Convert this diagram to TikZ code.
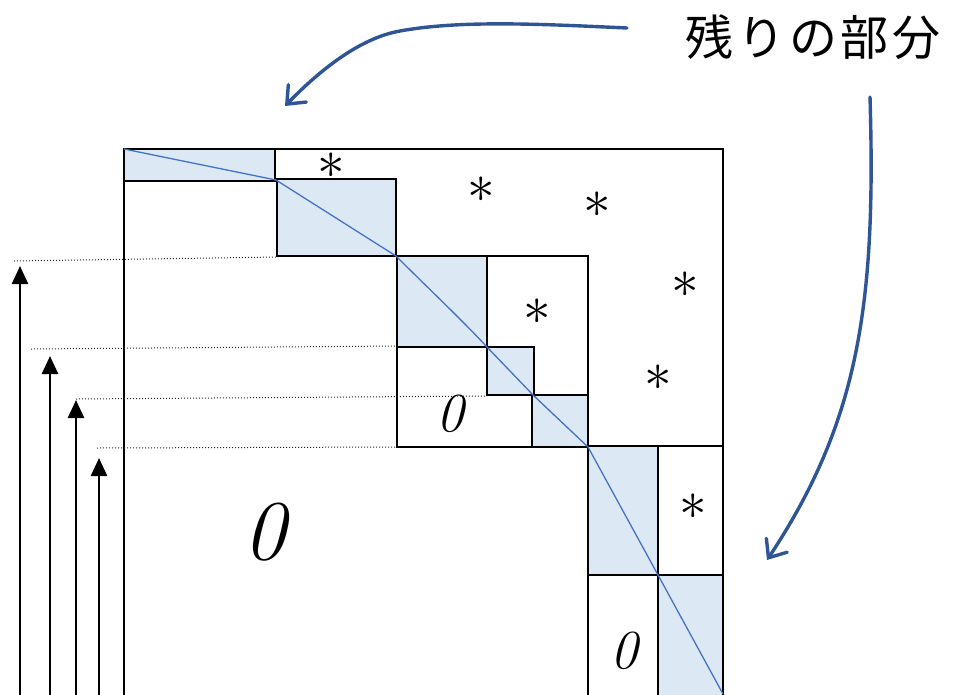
\documentclass[tikz,border=0pt]{standalone}
\usepackage{fontspec}
\newfontfamily\jp{Noto Sans CJK JP}
\usetikzlibrary{arrows.meta}
\definecolor{blkfill}{RGB}{221,232,245}
\definecolor{diagblue}{RGB}{68,114,196}
\definecolor{arrblue}{RGB}{47,85,151}
\begin{document}
\begin{tikzpicture}[x=1pt,y=-1pt,
  blk/.style={draw=black,line width=2.8pt,fill=blkfill},
  cell/.style={draw=black,line width=2.8pt},
  guide/.style={draw=black!85,line width=1pt,dotted},
  uparrow/.style={draw=black,line width=2.6pt,-{Triangle[width=16pt,length=18pt]}},
  callout/.style={draw=arrblue,line width=3.4pt,line cap=round,-{Straight Barb[length=15pt,width=25pt,line cap=round]}},
  star/.style={inner sep=0pt},
  zero/.style={inner sep=0pt}]
\useasboundingbox (0,0) rectangle (955,694);
\clip (0,0) rectangle (955,694);

% diagonal blocks and cells
\path[blk] (124,149) rectangle (275,181);
\path[blk] (277,179) rectangle (396,256);
\draw[cell] (397,256) rectangle (588,447);
\path[blk] (397,256) rectangle (487,347);
\draw[cell] (487,256) rectangle (588,395);
\draw[cell] (397,347) rectangle (532,447);
\path[blk] (487,347) rectangle (534,395);
\path[blk] (532,395) rectangle (588,447);
\draw[cell] (588,446) -- (723,446);
\path[blk] (588,446) rectangle (658,575);
\draw[cell] (658,446) rectangle (723,575);
\draw[cell] (588,575) rectangle (658,710);
\path[blk] (658,575) rectangle (723,710);
% outer frame
\draw[cell] (124,710) -- (124,149) -- (723,149) -- (723,710);

% diagonal line
\draw[diagblue,line width=1.3pt,line join=round] (124,149) -- (276,180) -- (396,256)
  .. controls (430,290) and (460,318) .. (487,347) -- (533,395) -- (588,447) -- (658,575) -- (723,694);

% dotted guides
\coordinate (g1a) at (14,261);  \coordinate (g1b) at (278,257);
\coordinate (g2a) at (31,349);  \coordinate (g2b) at (397,346);
\coordinate (g3a) at (76,399);  \coordinate (g3b) at (487,396);
\coordinate (g4a) at (97,448);  \coordinate (g4b) at (397,447);
\draw[guide] (g1a) -- (g1b);
\draw[guide] (g2a) -- (g2b);
\draw[guide] (g3a) -- (g3b);
\draw[guide] (g4a) -- (g4b);

% upward arrows
\coordinate (a1s) at (20,700); \coordinate (a1e) at (20,266);
\coordinate (a2s) at (50,700); \coordinate (a2e) at (50,356);
\coordinate (a3s) at (76,700); \coordinate (a3e) at (76,400);
\coordinate (a4s) at (99,700); \coordinate (a4e) at (99,458);
\draw[uparrow] (a1s) -- (a1e);
\draw[uparrow] (a2s) -- (a2e);
\draw[uparrow] (a3s) -- (a3e);
\draw[uparrow] (a4s) -- (a4e);

% stars
\node[star] (s1) at (331,166) {\scalebox{5.5}{$\ast$}};
\node[star] (s2) at (481,190) {\scalebox{5.5}{$\ast$}};
\node[star] (s3) at (597,205) {\scalebox{5.5}{$\ast$}};
\node[star] (s4) at (685,285) {\scalebox{5.5}{$\ast$}};
\node[star] (s5) at (537,312) {\scalebox{5.5}{$\ast$}};
\node[star] (s6) at (658,378) {\scalebox{5.5}{$\ast$}};
\node[star] (s7) at (693,507) {\scalebox{5.5}{$\ast$}};

% zeros
\node[zero] (z1) at (265,532) {\fontsize{85}{85}\selectfont\itshape 0};
\node[zero] (z2) at (450,414) {\fontsize{55}{55}\selectfont\itshape 0};
\node[zero] (z3) at (624,651) {\fontsize{55}{55}\selectfont\itshape 0};

% label and callouts
\node[inner sep=0pt] (lbl) at (813,37) {\fontsize{48}{48}\selectfont\jp\addfontfeature{LetterSpace=8}残りの部分};
\coordinate (c1s) at (627,28); \coordinate (c1e) at (285,106);
\coordinate (c2s) at (870,97); \coordinate (c2e) at (767,560);
\draw[callout] (c1s) .. controls (540,24) and (460,20) .. (400,31)
  .. controls (360,38) and (320,70) .. (c1e);
\draw[callout] (c2s) .. controls (876,300) and (860,420) .. (c2e);
\end{tikzpicture}
\end{document}
